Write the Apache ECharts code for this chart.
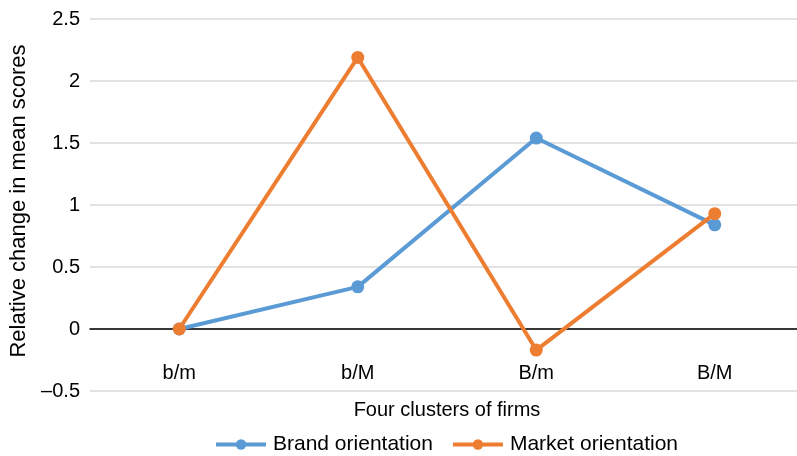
<!DOCTYPE html>
<html>
<head>
<meta charset="utf-8">
<script src="https://cdn.jsdelivr.net/npm/echarts@6/dist/echarts.min.js"></script>
<style>
  html, body { margin: 0; padding: 0; background: #fff; }
  #chart { width: 797px; height: 456px; }
</style>
</head>
<body>
<div id="chart"></div>
<script>
// data
const clusters = ['b/m', 'b/M', 'B/m', 'B/M']
const brandOrientation = [0, 0.34, 1.54, 0.84]
const marketOrientation = [0, 2.19, -0.17, 0.93]

const font = 'Liberation Sans, Arial, Helvetica, sans-serif'

const myChart = echarts.init(document.getElementById('chart'))
myChart.setOption({
  animation: false,
  textStyle: { fontFamily: font },
  color: ['#5B9BD5', '#ED7D31'],
  grid: {
    left: 90,
    top: 19,
    width: 714,
    height: 372,
    containLabel: false,
    outerBoundsMode: 'none',
  },
  legend: {
    top: 429,
    left: 209,
    itemWidth: 50,
    itemHeight: 13,
    itemGap: 18,
    lineStyle: { width: 4 },
    textStyle: { fontSize: 21, color: '#000', fontFamily: font, padding: [0, 0, 0, 2] },
    data: ['Brand orientation', 'Market orientation'],
  },
  xAxis: {
    type: 'category',
    data: clusters,
    boundaryGap: true,
    name: 'Four clusters of firms',
    nameLocation: 'middle',
    nameGap: 9,
    nameMoveOverlap: false,
    nameTextStyle: { fontSize: 20, color: '#000' },
    axisLine: { onZero: true, lineStyle: { color: '#000', width: 1.5 } },
    axisTick: { show: false },
    axisLabel: { fontSize: 20, color: '#000', margin: -28 },
  },
  yAxis: {
    type: 'value',
    min: -0.5,
    max: 2.5,
    interval: 0.5,
    name: 'Relative change in mean scores',
    nameLocation: 'middle',
    nameGap: 60,
    nameTextStyle: { fontSize: 22, color: '#000', padding: [0, 0, 0, 8] },
    axisLine: { show: false },
    axisTick: { show: false },
    axisLabel: {
      fontSize: 20,
      color: '#000',
      margin: 10,
      formatter: (v) => String(v).replace('-', '\u2013'),
    },
    splitLine: { lineStyle: { color: '#d9d9d9', width: 1.5 } },
  },
  series: [
    {
      name: 'Brand orientation',
      type: 'line',
      data: brandOrientation,
      symbol: 'circle',
      symbolSize: 13,
      lineStyle: { width: 4 },
    },
    {
      name: 'Market orientation',
      type: 'line',
      data: marketOrientation,
      symbol: 'circle',
      symbolSize: 13,
      lineStyle: { width: 4 },
    },
  ],
})
</script>
</body>
</html>
